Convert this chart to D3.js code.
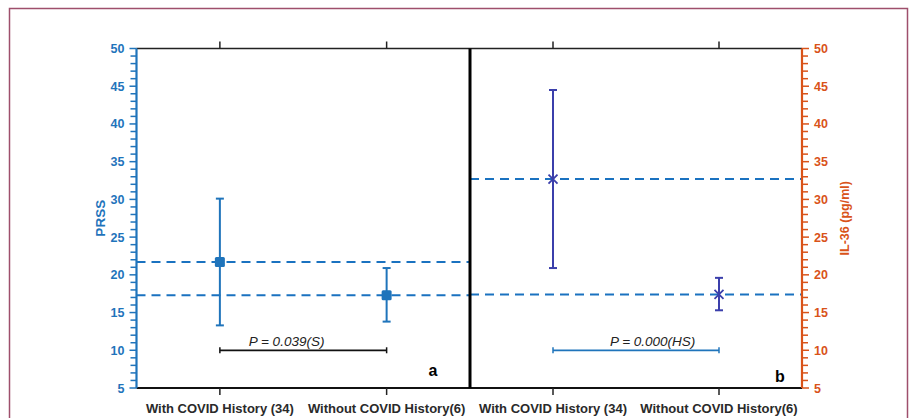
<!DOCTYPE html>
<html>
<head>
	<meta charset="UTF-8">
	<title>PRSS and IL-36 by COVID history</title>
	<script src="https://cdn.jsdelivr.net/npm/d3@7"></script>
	<style>
		body {
			padding: 0;
			margin: 0;
			background: #fff;
		}
		text {
			font-family: "Liberation Sans", Arial, sans-serif;
		}
	</style>
</head>
<body>
	<script>
		// data
		var categories = ["With COVID History (34)", "Without COVID History(6)"];
		var prssMean = [21.7, 17.3],
			prssLow = [13.3, 13.8],
			prssHigh = [30.1, 20.9];
		var il36Mean = [32.7, 17.4],
			il36Low = [20.9, 15.3],
			il36High = [44.5, 19.6];
		var yTicks = [5, 10, 15, 20, 25, 30, 35, 40, 45, 50];
		var pLabels = ["P = 0.039(S)", "P = 0.000(HS)"];
		var pLevel = 10;
		var pTextPos = [0.4, 0.6]; // fraction between the two categories
		var panelLetters = ["a", "b"];

		var w = 911,
			h = 418;
		// plot edges (note: "top" is reserved on window, so prefix them)
		var pLeft = 136.5,
			pMid = 470,
			pRight = 802,
			pTop = 48.5,
			pBottom = 388;

		var blue = "#1f74bb",
			orange = "#d95319",
			indigo = "#3b3fab",
			dashBlue = "#1a72c0";

		var svg = d3.select("body").append("svg")
			.attr("width", w)
			.attr("height", h);

		// outer frame
		svg.append("rect")
			.attr("x", 9.5).attr("y", 8.5)
			.attr("width", 898).attr("height", 420)
			.attr("fill", "none")
			.attr("stroke", "#9e4f6c")
			.attr("stroke-width", 1.5);

		var y = d3.scaleLinear().domain([5, 50]).range([pBottom, pTop]);
		var xA = d3.scalePoint().domain(categories).range([pLeft, pMid]).padding(0.5);
		var xB = d3.scalePoint().domain(categories).range([pMid, pRight]).padding(0.5);

		// dashed reference lines at the means
		function dashes(x0, x1, vals) {
			vals.forEach(function (v) {
				svg.append("line")
					.attr("x1", x0).attr("x2", x1)
					.attr("y1", y(v)).attr("y2", y(v))
					.attr("stroke", dashBlue)
					.attr("stroke-width", 2)
					.attr("stroke-dasharray", "9,6");
			});
		}
		dashes(pLeft, pMid, prssMean);
		dashes(pMid, pRight, il36Mean);

		// frame lines
		svg.append("line").attr("x1", pLeft).attr("x2", pRight).attr("y1", pTop).attr("y2", pTop)
			.attr("stroke", "#222").attr("stroke-width", 1.5);
		svg.append("line").attr("x1", pLeft).attr("x2", pRight).attr("y1", pBottom).attr("y2", pBottom)
			.attr("stroke", "#111").attr("stroke-width", 1.8);
		svg.append("line").attr("x1", pMid).attr("x2", pMid).attr("y1", pTop).attr("y2", pBottom)
			.attr("stroke", "#000").attr("stroke-width", 3);

		// category ticks top and bottom
		[xA, xB].forEach(function (x) {
			categories.forEach(function (c) {
				svg.append("line").attr("x1", x(c)).attr("x2", x(c))
					.attr("y1", pTop).attr("y2", pTop - 7)
					.attr("stroke", "#222").attr("stroke-width", 1.5);
				svg.append("line").attr("x1", x(c)).attr("x2", x(c))
					.attr("y1", pBottom).attr("y2", pBottom + 7)
					.attr("stroke", "#222").attr("stroke-width", 1.5);
				svg.append("text")
					.attr("x", x(c)).attr("y", 413)
					.attr("text-anchor", "middle")
					.attr("font-size", 13)
					.attr("font-weight", "bold")
					.attr("fill", "#2a2a2a")
					.text(c);
			});
		});

		// y axes with minor ticks
		function yAxis(side, color) {
			var g = svg.append("g");
			var x0 = side == "left" ? pLeft : pRight;
			var dir = side == "left" ? -1 : 1;
			g.append("line").attr("x1", x0).attr("x2", x0)
				.attr("y1", pTop).attr("y2", pBottom)
				.attr("stroke", color).attr("stroke-width", 2.2);
			d3.range(5, 51, 1).forEach(function (v) {
				var major = v % 5 == 0;
				g.append("line")
					.attr("x1", x0).attr("x2", x0 + dir * (major ? 7 : 6))
					.attr("y1", y(v)).attr("y2", y(v))
					.attr("stroke", color).attr("stroke-width", 1.5);
			});
			yTicks.forEach(function (v) {
				g.append("text")
					.attr("x", x0 + dir * 12)
					.attr("y", y(v))
					.attr("dy", "0.36em")
					.attr("text-anchor", side == "left" ? "end" : "start")
					.attr("font-size", 12.5)
					.attr("font-weight", "bold")
					.attr("fill", color)
					.text(v);
			});
		}
		yAxis("left", blue);
		yAxis("right", orange);

		svg.append("text")
			.attr("transform", "translate(105," + (pTop + pBottom) / 2 + ") rotate(-90)")
			.attr("text-anchor", "middle")
			.attr("font-size", 13.5).attr("font-weight", "bold")
			.attr("fill", blue)
			.text("PRSS");
		svg.append("text")
			.attr("transform", "translate(849," + (pTop + pBottom) / 2 + ") rotate(-90)")
			.attr("text-anchor", "middle")
			.attr("font-size", 12.5).attr("font-weight", "bold")
			.attr("fill", orange)
			.text("IL-36 (pg/ml)");

		// error bars
		function errorBars(x, mean, lo, hi, color, marker) {
			categories.forEach(function (c, i) {
				var cx = x(c);
				svg.append("line").attr("x1", cx).attr("x2", cx)
					.attr("y1", y(lo[i])).attr("y2", y(hi[i]))
					.attr("stroke", color).attr("stroke-width", 2);
				[lo[i], hi[i]].forEach(function (v) {
					svg.append("line").attr("x1", cx - 4).attr("x2", cx + 4)
						.attr("y1", y(v)).attr("y2", y(v))
						.attr("stroke", color).attr("stroke-width", 2);
				});
				var cy = y(mean[i]);
				if (marker == "square") {
					svg.append("rect")
						.attr("x", cx - 5).attr("y", cy - 5)
						.attr("width", 10).attr("height", 10)
						.attr("rx", 1.5)
						.attr("fill", color);
				} else {
					svg.append("path")
						.attr("d", "M" + (cx - 4.5) + "," + (cy - 4.5) + "L" + (cx + 4.5) + "," + (cy + 4.5) +
							"M" + (cx - 4.5) + "," + (cy + 4.5) + "L" + (cx + 4.5) + "," + (cy - 4.5))
						.attr("stroke", color).attr("stroke-width", 1.8);
				}
			});
		}
		errorBars(xA, prssMean, prssLow, prssHigh, blue, "square");
		errorBars(xB, il36Mean, il36Low, il36High, indigo, "x");

		// significance brackets
		[xA, xB].forEach(function (x, k) {
			var color = k == 0 ? "#111" : blue;
			var x1 = x(categories[0]),
				x2 = x(categories[1]),
				py = y(pLevel);
			svg.append("line").attr("x1", x1).attr("x2", x2).attr("y1", py).attr("y2", py)
				.attr("stroke", color).attr("stroke-width", 1.8);
			[x1, x2].forEach(function (xx) {
				svg.append("line").attr("x1", xx).attr("x2", xx).attr("y1", py - 3).attr("y2", py + 3)
					.attr("stroke", color).attr("stroke-width", 1.5);
			});
			svg.append("text")
				.attr("x", x1 + (x2 - x1) * pTextPos[k])
				.attr("y", py - 4)
				.attr("text-anchor", "middle")
				.attr("font-size", 13.5)
				.attr("font-style", "italic")
				.attr("fill", "#222")
				.text(pLabels[k]);
		});

		// panel letters
		svg.append("text").attr("x", xA.range()[1] - 37).attr("y", y(6.6))
			.attr("text-anchor", "middle").attr("font-size", 16).attr("font-weight", "bold")
			.text(panelLetters[0]);
		svg.append("text").attr("x", xB.range()[1] - 22).attr("y", y(5.8))
			.attr("text-anchor", "middle").attr("font-size", 16).attr("font-weight", "bold")
			.text(panelLetters[1]);
	</script>
</body>
</html>
